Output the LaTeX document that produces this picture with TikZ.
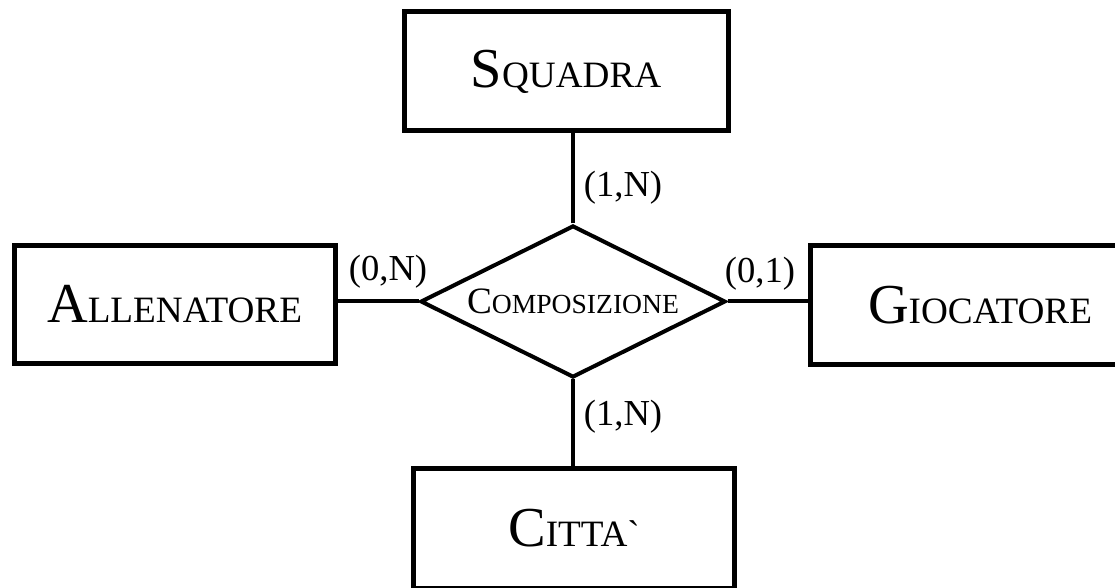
\documentclass[tikz,border=0pt]{standalone}
\usepackage{fontspec}
\setmainfont{Liberation Serif}
\newfontfamily\rawserif{Liberation Serif}[Ligatures=TeXOff]
\usetikzlibrary{shapes.geometric}
\newcommand\bigsc[2]{{\fontsize{28.2pt}{32pt}\selectfont #1}{\fontsize{18.6pt}{21pt}\selectfont #2}}
\newcommand\smallsc[2]{{\fontsize{18.6pt}{21pt}\selectfont #1}{\fontsize{13.8pt}{16pt}\selectfont #2}}
\tikzset{
  entity/.style={rectangle, draw=black, line width=2.5pt, inner sep=0pt, fill=white},
  relation/.style={diamond, shape aspect=2, draw=black, line width=2pt, inner sep=0pt, minimum width=152.5pt, minimum height=76pt},
  link/.style={draw=black, line width=2pt},
  card/.style={inner sep=0pt, font=\fontsize{18.3pt}{21pt}\selectfont}
}
\begin{document}
\begin{tikzpicture}[x=0.5pt,y=-0.5pt]
\useasboundingbox (0,0) rectangle (1115,588);
\clip (0,0) rectangle (1115,588);
\fill[white] (0,0) rectangle (1115,588);
\node[relation] (comp) at (573,301.5) {\smallsc{C}{OMPOSIZIONE}};
\node[entity, minimum width=162pt, minimum height=59.5pt] (squadra) at (566,71.5) {\bigsc{S}{QUADRA}};
\node[entity, minimum width=160.5pt, minimum height=59pt] (allen) at (174.5,304.5) {\bigsc{A}{LLENATORE}};
\node[entity, minimum width=170pt, minimum height=59.5pt] (gioc) at (980,305) {\bigsc{G}{IOCATORE}};
\node[entity, minimum width=160.5pt, minimum height=59.5pt] (citta) at (574,528.5) {\bigsc{C}{ITTA{\rawserif\symbol{96}}}};
\draw[link] (comp.north) -- (comp.north |- squadra.south);
\draw[link] (comp.south) -- (comp.south |- citta.north);
\draw[link] (comp.west) -- (allen.east |- comp.west);
\draw[link] (comp.east) -- (gioc.west |- comp.east);
\node[card] (c1) at (623,188) {(1,N)};
\node[card] (c2) at (623,417) {(1,N)};
\node[card] (c3) at (388,272) {(0,N)};
\node[card] (c4) at (760,274) {(0,1)};
\end{tikzpicture}
\end{document}
